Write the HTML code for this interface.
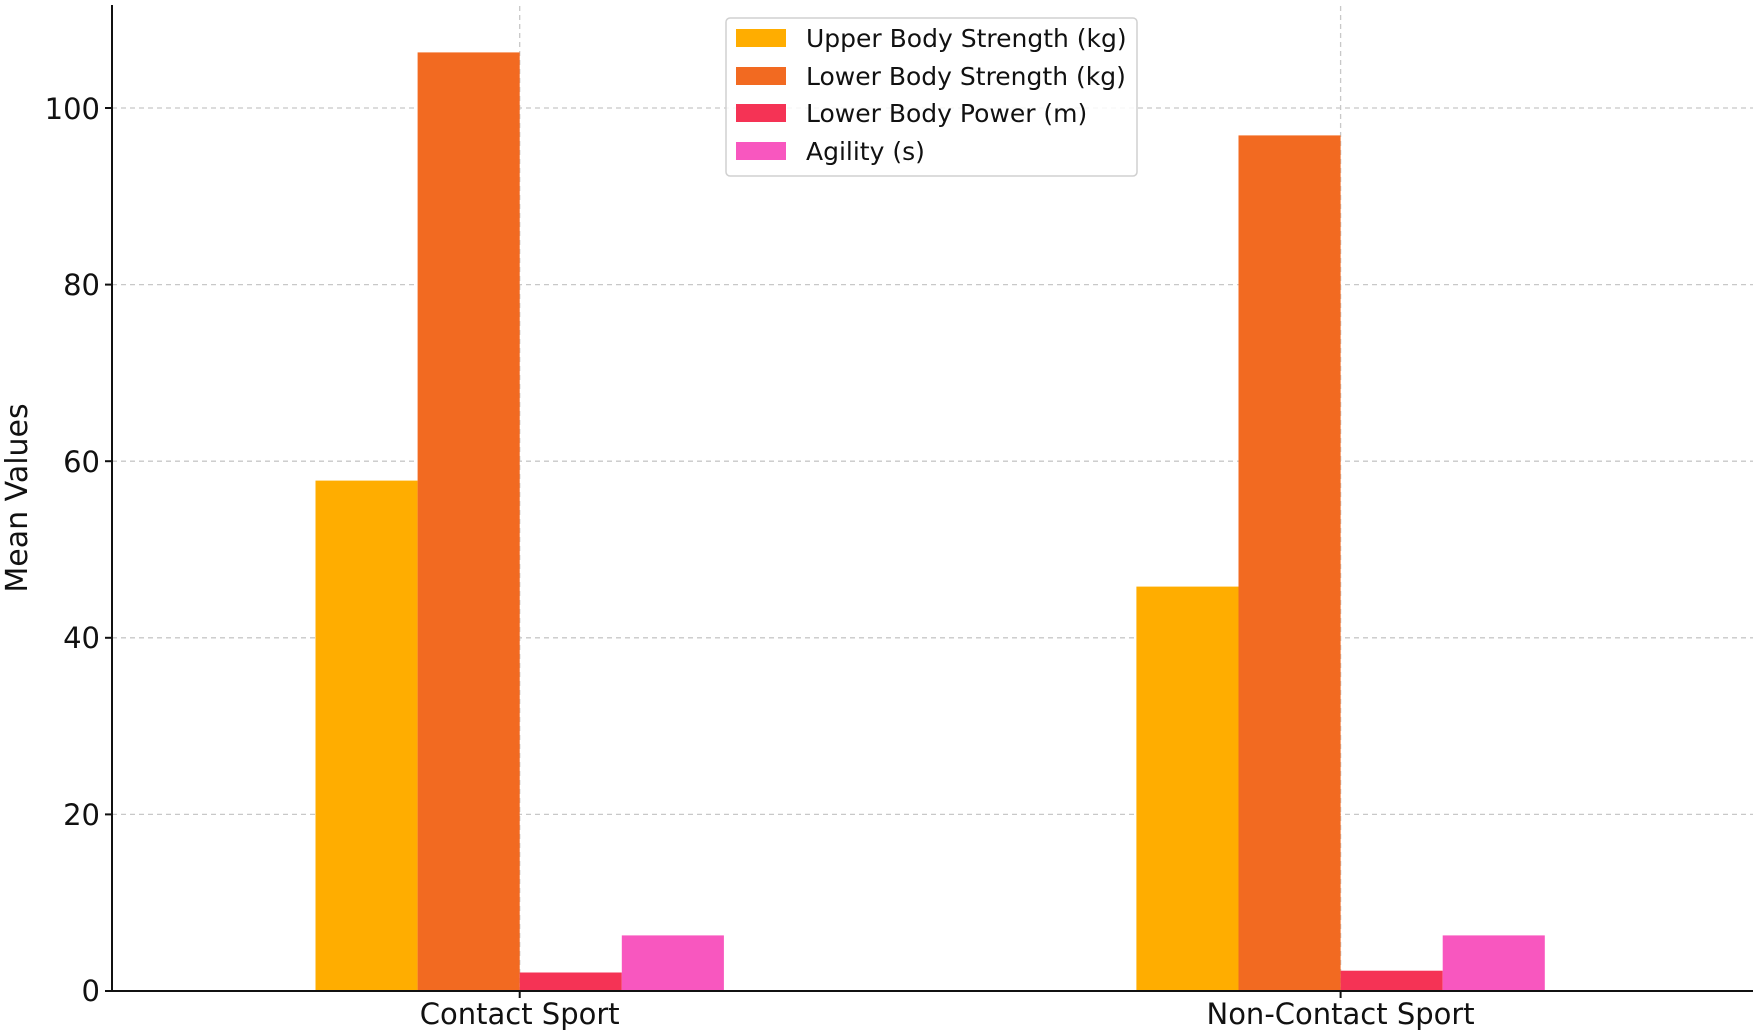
<!DOCTYPE html>
<html><head><meta charset="utf-8"><style>html,body{margin:0;padding:0;background:#fff}svg{display:block}text{font-family:"DejaVu Sans","Liberation Sans",sans-serif;fill:#111}</style></head>
<body>
<svg width="1756" height="1034" viewBox="0 0 1756 1034" xmlns="http://www.w3.org/2000/svg">
<g stroke="#c8c8c8" stroke-width="1.3" stroke-dasharray="5,4">
<line x1="112" x2="1753" y1="814.4" y2="814.4"/>
<line x1="112" x2="1753" y1="637.8" y2="637.8"/>
<line x1="112" x2="1753" y1="461.2" y2="461.2"/>
<line x1="112" x2="1753" y1="284.6" y2="284.6"/>
<line x1="112" x2="1753" y1="108" y2="108"/>
<line x1="519.7" x2="519.7" y1="6" y2="991"/>
<line x1="1340.6" x2="1340.6" y1="6" y2="991"/>
</g>
<rect x="315.5" y="480.6" width="102.1" height="510.4" fill="#ffad00"/>
<rect x="417.6" y="52.4" width="102.1" height="938.6" fill="#f26a21"/>
<rect x="519.7" y="972.5" width="102.1" height="18.5" fill="#f53355"/>
<rect x="621.8" y="935.4" width="102.1" height="55.6" fill="#f857bf"/>
<rect x="1136.4" y="586.6" width="102.1" height="404.4" fill="#ffad00"/>
<rect x="1238.5" y="135.4" width="102.1" height="855.6" fill="#f26a21"/>
<rect x="1340.6" y="970.7" width="102.1" height="20.3" fill="#f53355"/>
<rect x="1442.7" y="935.4" width="102.1" height="55.6" fill="#f857bf"/>
<line x1="112" x2="112" y1="5" y2="992" stroke="#111" stroke-width="2"/>
<line x1="111" x2="1753" y1="991" y2="991" stroke="#111" stroke-width="2"/>
<g stroke="#111" stroke-width="2">
<line x1="105" x2="112" y1="991" y2="991"/><line x1="105" x2="112" y1="814.4" y2="814.4"/><line x1="105" x2="112" y1="637.8" y2="637.8"/><line x1="105" x2="112" y1="461.2" y2="461.2"/><line x1="105" x2="112" y1="284.6" y2="284.6"/><line x1="105" x2="112" y1="108" y2="108"/>
<line x1="519.7" x2="519.7" y1="991" y2="998"/><line x1="1340.6" x2="1340.6" y1="991" y2="998"/>
</g>
<g font-size="29" text-anchor="end">
<text x="100" y="1001">0</text><text x="100" y="825">20</text><text x="100" y="648">40</text><text x="100" y="472">60</text><text x="100" y="295">80</text><text x="100" y="119">100</text>
</g>
<g font-size="29" text-anchor="middle">
<text x="519.7" y="1024">Contact Sport</text><text x="1340.6" y="1024">Non-Contact Sport</text>
<text font-size="30" transform="translate(27,498) rotate(-90)">Mean Values</text>
</g>
<rect x="726" y="18" width="411" height="158" rx="4" fill="#fff" fill-opacity="0.85" stroke="#d0d0d0" stroke-width="1.5"/>
<rect x="736" y="29" width="50" height="18" fill="#ffad00"/>
<rect x="736" y="67" width="50" height="18" fill="#f26a21"/>
<rect x="736" y="104" width="50" height="18" fill="#f53355"/>
<rect x="736" y="142" width="50" height="18" fill="#f857bf"/>
<g font-size="25">
<text x="806" y="47">Upper Body Strength (kg)</text>
<text x="806" y="85">Lower Body Strength (kg)</text>
<text x="806" y="122">Lower Body Power (m)</text>
<text x="806" y="160">Agility (s)</text>
</g>
</svg>
</body></html>
